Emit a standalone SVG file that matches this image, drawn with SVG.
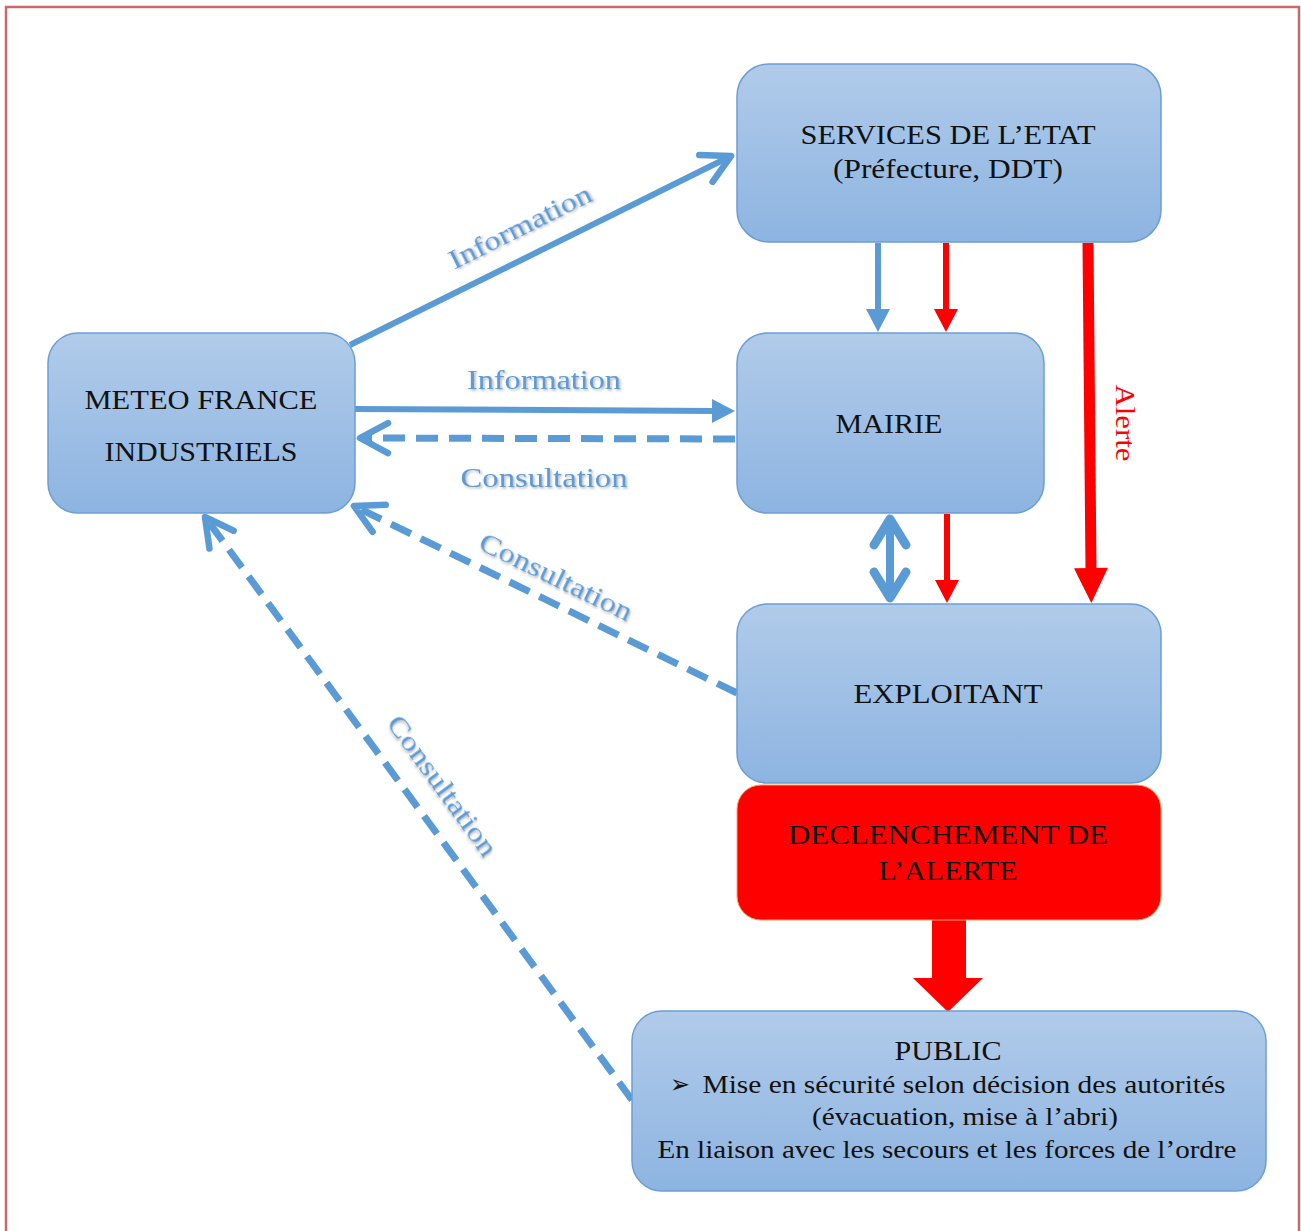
<svg xmlns="http://www.w3.org/2000/svg" width="1301" height="1231" viewBox="0 0 1301 1231">
  <style>
    .node { fill: url(#blueGrad); stroke: #6a9fd6; stroke-width: 1.5; }
    .ntext { font-family: "Liberation Serif", "Times New Roman", serif; font-size: 27px; fill: #111; text-anchor: middle; }
    .ptext { font-family: "Liberation Serif", "Times New Roman", serif; font-size: 25px; fill: #111; text-anchor: middle; }
    .lbl { font-family: "Liberation Serif", "Times New Roman", serif; font-size: 27px; fill: #5b9bd5; text-anchor: middle; filter: url(#shadow); }
    .red-lbl { font-family: "Liberation Serif", "Times New Roman", serif; font-size: 27px; fill: #ff0000; text-anchor: middle; }
    .blue { stroke: #5b9bd5; fill: none; stroke-width: 6; }
    .dash { stroke: #5b9bd5; fill: none; stroke-width: 7; stroke-dasharray: 22 11; }
    .redl { stroke: #ff0000; fill: none; stroke-width: 6; }
  </style>
  <defs>
    <linearGradient id="blueGrad" x1="0" y1="0" x2="0" y2="1">
      <stop offset="0" stop-color="#b1cbea"/>
      <stop offset="1" stop-color="#8db4e1"/>
    </linearGradient>
    <filter id="shadow" x="-10%" y="-30%" width="120%" height="160%">
      <feDropShadow dx="1.5" dy="1.5" stdDeviation="1" flood-color="#666" flood-opacity="0.5"/>
    </filter>
    <marker id="chev" markerUnits="userSpaceOnUse" viewBox="-40 -25 50 50" markerWidth="50" markerHeight="50" refX="0" refY="0" orient="auto">
      <path d="M -28 -15 L 0 0 L -28 15" fill="none" stroke="#5b9bd5" stroke-width="6.5" stroke-linecap="round" stroke-linejoin="round" stroke-dasharray="none"/>
    </marker>
    <marker id="chevB" markerUnits="userSpaceOnUse" viewBox="-40 -25 50 50" markerWidth="50" markerHeight="50" refX="0" refY="0" orient="auto-start-reverse">
      <path d="M -28 -16 L -2 0 L -28 16" fill="none" stroke="#5b9bd5" stroke-width="9" stroke-linecap="round" stroke-linejoin="round"/>
    </marker>
    <marker id="triB" markerUnits="userSpaceOnUse" viewBox="-5 -20 35 40" markerWidth="35" markerHeight="40" refX="0" refY="0" orient="auto">
      <path d="M -2 -12 L 21 0 L -2 12 Z" fill="#5b9bd5"/>
    </marker>
    <marker id="triR" markerUnits="userSpaceOnUse" viewBox="-5 -20 35 40" markerWidth="35" markerHeight="40" refX="0" refY="0" orient="auto">
      <path d="M -2 -12 L 21 0 L -2 12 Z" fill="#ff0000"/>
    </marker>
    <marker id="triRB" markerUnits="userSpaceOnUse" viewBox="-5 -25 45 50" markerWidth="45" markerHeight="50" refX="0" refY="0" orient="auto">
      <path d="M -2 -17 L 33 0 L -2 17 Z" fill="#ff0000"/>
    </marker>
  </defs>

  <rect x="0" y="0" width="1301" height="1231" fill="#ffffff"/>
  <rect x="6" y="7" width="1293" height="1240" fill="none" stroke="#c0504d" stroke-width="2.5" stroke-opacity="0.85"/>

  <g id="connectors">
    <!-- METEO -> SERVICES -->
    <line class="blue" x1="350" y1="345" x2="731" y2="156" marker-end="url(#chev)"/>
    <!-- METEO -> MAIRIE -->
    <line class="blue" x1="355" y1="409" x2="714" y2="411" marker-end="url(#triB)"/>
    <!-- MAIRIE -> METEO dashed -->
    <line class="dash" x1="735" y1="439" x2="360" y2="438" marker-end="url(#chev)"/>
    <!-- EXPLOITANT -> METEO dashed -->
    <line class="dash" x1="737" y1="693" x2="354" y2="506" marker-end="url(#chev)"/>
    <!-- PUBLIC -> METEO dashed -->
    <line class="dash" x1="632" y1="1100" x2="205" y2="517" marker-end="url(#chev)"/>
    <!-- SERVICES -> MAIRIE blue -->
    <line class="blue" x1="878" y1="243" x2="878" y2="311" marker-end="url(#triB)"/>
    <!-- SERVICES -> MAIRIE red -->
    <line class="redl" x1="946" y1="243" x2="946" y2="311" marker-end="url(#triR)"/>
    <!-- SERVICES -> EXPLOITANT red (Alerte) -->
    <line class="redl" style="stroke-width:11" x1="1088" y1="243" x2="1091" y2="570" marker-end="url(#triRB)"/>
    <!-- MAIRIE <-> EXPLOITANT blue -->
    <line class="blue" style="stroke-width:8" x1="890" y1="517" x2="890" y2="600" marker-start="url(#chevB)" marker-end="url(#chevB)"/>
    <!-- MAIRIE -> EXPLOITANT red -->
    <line class="redl" x1="947" y1="514" x2="947" y2="582" marker-end="url(#triR)"/>
    <!-- DECLENCHEMENT -> PUBLIC block arrow -->
    <path d="M 932 918 L 966 918 L 966 978 L 983 978 L 948 1012 L 913 978 L 932 978 Z" fill="#ff0000"/>
  </g>

  <g id="labels">
    <text class="lbl" x="524" y="235" transform="rotate(-26.5 524 235)" textLength="156" lengthAdjust="spacingAndGlyphs">Information</text>
    <text class="lbl" x="544" y="389" textLength="154" lengthAdjust="spacingAndGlyphs">Information</text>
    <text class="lbl" x="544" y="487" textLength="167" lengthAdjust="spacingAndGlyphs">Consultation</text>
    <text class="lbl" x="552" y="585" transform="rotate(26 552 585)" textLength="167" lengthAdjust="spacingAndGlyphs">Consultation</text>
    <text class="lbl" x="435" y="791" transform="rotate(54 435 791)" textLength="167" lengthAdjust="spacingAndGlyphs">Consultation</text>
    <text class="red-lbl" x="1116" y="423" transform="rotate(90 1116 423)" textLength="77" lengthAdjust="spacingAndGlyphs">Alerte</text>
  </g>

  <g id="node-services">
    <rect class="node" x="737" y="64" width="424" height="178" rx="32"/>
    <text class="ntext" x="948" y="144" textLength="295" lengthAdjust="spacingAndGlyphs">SERVICES DE L’ETAT</text>
    <text class="ntext" x="948" y="178" textLength="230" lengthAdjust="spacingAndGlyphs">(Préfecture, DDT)</text>
  </g>

  <g id="node-meteo">
    <rect class="node" x="48" y="333" width="307" height="180" rx="30"/>
    <text class="ntext" x="201" y="409" textLength="233" lengthAdjust="spacingAndGlyphs">METEO FRANCE</text>
    <text class="ntext" x="201" y="461" textLength="193" lengthAdjust="spacingAndGlyphs">INDUSTRIELS</text>
  </g>

  <g id="node-mairie">
    <rect class="node" x="737" y="333" width="307" height="180" rx="30"/>
    <text class="ntext" x="889" y="433" textLength="107" lengthAdjust="spacingAndGlyphs">MAIRIE</text>
  </g>

  <g id="node-exploitant">
    <rect class="node" x="737" y="604" width="424" height="179" rx="30"/>
    <text class="ntext" x="948" y="703" textLength="189" lengthAdjust="spacingAndGlyphs">EXPLOITANT</text>
  </g>

  <g id="node-declenchement">
    <rect x="737" y="785" width="424" height="135" rx="24" fill="#ff0000" stroke="#f4a460" stroke-width="1"/>
    <text class="ntext" x="948" y="844" textLength="320" lengthAdjust="spacingAndGlyphs">DECLENCHEMENT DE</text>
    <text class="ntext" x="948" y="880" textLength="139" lengthAdjust="spacingAndGlyphs">L’ALERTE</text>
  </g>

  <g id="node-public">
    <rect class="node" x="632" y="1011" width="634" height="180" rx="30"/>
    <text class="ntext" x="948" y="1060" textLength="107" lengthAdjust="spacingAndGlyphs">PUBLIC</text>
    <text class="ptext" x="680" y="1093" style="font-family:'DejaVu Sans',sans-serif;font-size:26px" textLength="20" lengthAdjust="spacingAndGlyphs">➢</text>
    <text class="ptext" x="964" y="1093" textLength="523" lengthAdjust="spacingAndGlyphs">Mise en sécurité selon décision des autorités</text>
    <text class="ptext" x="965" y="1125" textLength="306" lengthAdjust="spacingAndGlyphs">(évacuation, mise à l’abri)</text>
    <text class="ptext" x="947" y="1158" textLength="579" lengthAdjust="spacingAndGlyphs">En liaison avec les secours et les forces de l’ordre</text>
  </g>
</svg>
